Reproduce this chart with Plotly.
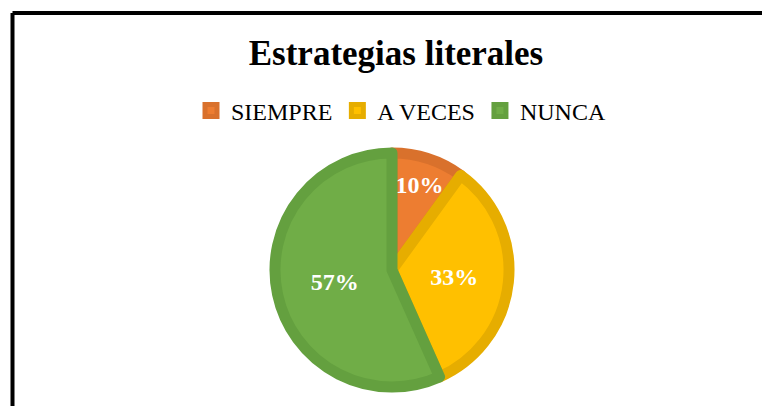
import plotly.graph_objects as go

labels = ["SIEMPRE", "A VECES", "NUNCA"]
values = [3, 10, 17]
fills = ["#ED7D31", "#FFC000", "#70AD47"]
edges = ["#D9712C", "#E6AD00", "#64A03F"]

# the page body has an 8px margin, so everything is laid out on 762x398
W, H = 762, 398

fig = go.Figure(go.Pie(
    labels=labels,
    values=values,
    sort=False,
    direction="clockwise",
    rotation=0,
    marker=dict(colors=fills, line=dict(color=edges, width=11)),
    texttemplate="%{percent:.0%}",
    textposition="inside",
    insidetextorientation="horizontal",
    textfont=dict(family="Liberation Serif", size=24, color="white", weight="bold"),
    domain=dict(x=[267 / W, 501 / W], y=[1 - 379 / H, 1 - 145 / H]),
    hoverinfo="label+percent",
))

fig.update_layout(
    width=W, height=H,
    margin=dict(l=0, r=0, t=0, b=0),
    paper_bgcolor="white",
    font=dict(family="Liberation Serif", color="black"),
    title=dict(
        text="<b>Estrategias literales</b>",
        x=388 / W, xanchor="center",
        y=1 - 45 / H, yanchor="middle",
        font=dict(family="Liberation Serif", size=35, color="black"),
    ),
    legend=dict(
        orientation="h",
        x=393 / W, xanchor="center",
        y=1 - 103 / H, yanchor="middle",
        font=dict(family="Liberation Serif", size=24, color="black"),
        itemwidth=30,
        traceorder="normal",
    ),
    shapes=[
        dict(type="line", xref="paper", yref="paper",
             x0=4.5 / W, x1=1.01, y0=1 - 5 / H, y1=1 - 5 / H,
             line=dict(color="black", width=4)),
        dict(type="line", xref="paper", yref="paper",
             x0=4.5 / W, x1=4.5 / W, y0=-0.01, y1=1 - 5 / H,
             line=dict(color="black", width=4)),
    ],
)

fig.write_html("out.html")
